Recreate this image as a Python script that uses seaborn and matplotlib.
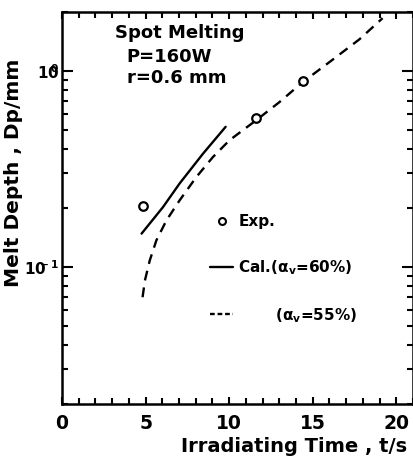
import matplotlib
matplotlib.use("Agg")
import matplotlib.pyplot as plt
import seaborn as sns
import numpy as np
import pandas as pd
from matplotlib.ticker import MultipleLocator, LogLocator, FixedLocator, NullFormatter
from matplotlib.lines import Line2D

# data
exp_t = [4.85, 11.6, 14.4]
exp_dp = [0.204, 0.573, 0.892]

cal60_t = [4.76, 6.04, 7.04, 8.44, 9.79]
cal60_dp = [0.148, 0.202, 0.267, 0.379, 0.519]

cal55_t = [4.82, 4.96, 5.25, 5.65, 6.25, 7.04, 8.04, 9.03, 10.03, 11.62, 13.01, 14.41, 16.0, 17.79, 19.18]
cal55_dp = [0.0701, 0.0853, 0.108, 0.137, 0.173, 0.219, 0.288, 0.364, 0.444, 0.561, 0.694, 0.879, 1.11,
            1.45, 1.86]

y_ticks = [0.1, 1.0]
y_ticklabels = ["$10^{\\hspace{-0.8}-1}$", "$10^{\\hspace{-0.8}0}$"]
x_ticks = [0, 5, 10, 15, 20]

sns.set_style("ticks")
plt.rcParams['font.family'] = ['DejaVu Sans']
plt.rcParams['mathtext.fontset'] = 'dejavusans'
plt.rcParams['mathtext.default'] = 'bf'
plt.rcParams['text.color'] = 'black'
plt.rcParams['axes.labelcolor'] = 'black'
plt.rcParams['xtick.color'] = 'black'
plt.rcParams['ytick.color'] = 'black'

fig = plt.figure(figsize=(4.14, 4.68), dpi=100)
ax = fig.add_axes([62/414, 1 - 404/468, 351/414, 392/468])

df_exp = pd.DataFrame({"t": exp_t, "dp": exp_dp})
df60 = pd.DataFrame({"t": cal60_t, "dp": cal60_dp})
df55 = pd.DataFrame({"t": cal55_t, "dp": cal55_dp})

sns.lineplot(data=df60, x="t", y="dp", ax=ax, color="black", linewidth=1.7, estimator=None, sort=False)
sns.lineplot(data=df55, x="t", y="dp", ax=ax, color="black", linewidth=1.7, estimator=None, sort=False)
ax.lines[-1].set_dashes((4.2, 3.0))
sns.scatterplot(data=df_exp, x="t", y="dp", ax=ax, marker="o", s=38, facecolor="white",
                edgecolor="black", linewidth=1.6, zorder=5)

ax.set_yscale("log")
ax.set_xlim(0, 21)
ax.set_ylim(0.02, 2)

ax.xaxis.set_major_locator(FixedLocator(x_ticks))
ax.xaxis.set_minor_locator(MultipleLocator(1))
ax.yaxis.set_major_locator(FixedLocator(y_ticks))
ax.yaxis.set_minor_locator(LogLocator(base=10, subs=np.arange(2, 10)))
ax.yaxis.set_minor_formatter(NullFormatter())
ax.set_yticklabels(y_ticklabels, fontsize=11)
ax.set_xticklabels([str(v) for v in x_ticks], fontweight="bold", fontsize=13.5)

ax.tick_params(which="both", direction="in", top=True, right=True, width=1.5)
ax.tick_params(which="major", length=8)
ax.tick_params(which="minor", length=4.5)
ax.tick_params(axis="y", which="major", pad=2)
ax.tick_params(axis="x", which="major", length=5, pad=7)
for s in ax.spines.values():
    s.set_linewidth(1.8)
    s.set_color("black")

ax.set_xlabel("Irradiating Time , t/s", fontsize=14, fontweight="bold")
ax.xaxis.set_label_coords((407 - 62) / 351, -0.083)
ax.xaxis.label.set_horizontalalignment("right")
ax.set_ylabel("Melt Depth , Dp/mm", fontsize=14.5, fontweight="bold")
ax.yaxis.set_label_coords(-0.112, 0.59)

for txt, x, y in [("Spot Melting", 115, 33), ("P=160W", 126, 57), ("r=0.6 mm", 127, 78)]:
    ax.text(x/414, 1 - y/468, txt, transform=fig.transFigure, fontsize=13, fontweight="bold",
            va="center", ha="left")

handles = [Line2D([], [], marker="o", color="black", markerfacecolor="white", markeredgewidth=1.5,
                  markersize=5, linestyle="none"),
           Line2D([], [], color="black", linewidth=1.7),
           Line2D([], [], color="black", linewidth=1.7, dashes=(2, 1.2))]
labels = ["Exp.", "Cal.($\\alpha_v$=60%)", "       ($\\alpha_v$=55%)"]
leg = ax.legend(handles, labels, loc="upper left", bbox_to_anchor=(207/414, 1 - 211/468),
                bbox_transform=fig.transFigure, frameon=False, handlelength=1.5, handletextpad=0.35,
                labelspacing=1.9, borderaxespad=0, borderpad=0.2,
                prop={"size": 11, "weight": "bold"})

fig.savefig("out.png", dpi=100)
